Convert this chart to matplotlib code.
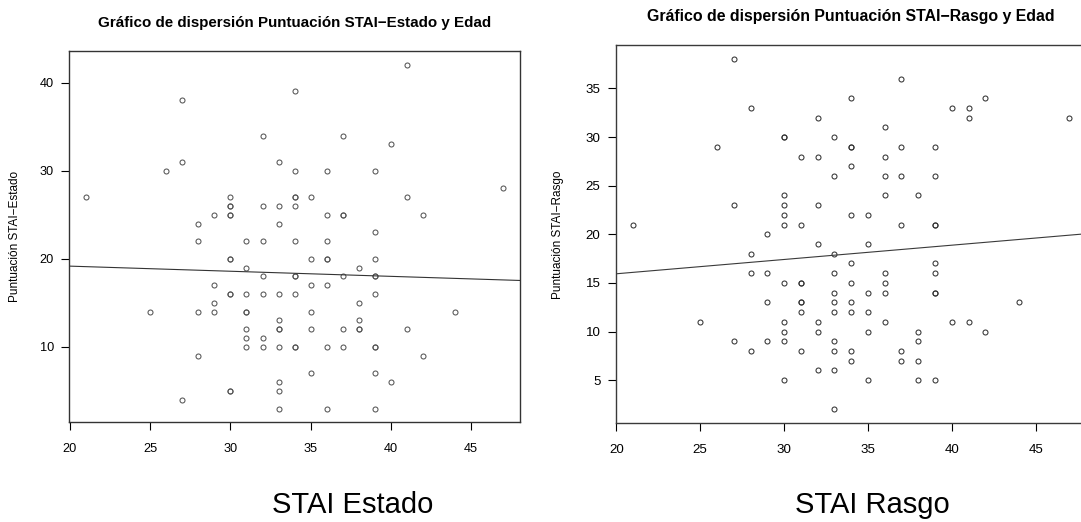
import matplotlib
matplotlib.use("Agg")
import matplotlib.pyplot as plt

plt.rcParams['font.family'] = ['Liberation Sans', 'DejaVu Sans']

# STAI-Estado vs edad
estado_edad = [41, 27, 34, 32, 37, 40, 27, 33, 26, 34, 36, 39, 47, 21, 30, 34, 34, 35, 41,
               30, 30, 32, 33, 34, 29, 30, 30, 36, 37, 37, 42, 28, 33, 39, 28, 31, 32, 34, 36,
               30, 30, 35, 36, 36, 39, 31, 38, 32, 34, 34, 37, 39, 39, 29, 35, 36,
               30, 30, 31, 32, 33, 34, 39, 29, 38, 25, 28, 29, 31, 31, 35, 44, 33, 38,
               31, 33, 33, 35, 37, 38, 38, 41, 31, 32, 31, 32, 33, 34, 34, 36, 37, 39, 39,
               28, 42, 35, 39, 33, 40, 30, 30, 33, 27, 33, 36, 39]
estado_punt = [42, 38, 39, 34, 34, 33, 31, 31, 30, 30, 30, 30, 28, 27, 27, 27, 27, 27, 27,
               26, 26, 26, 26, 26, 25, 25, 25, 25, 25, 25, 25, 24, 24, 23, 22, 22, 22, 22, 22,
               20, 20, 20, 20, 20, 20, 19, 19, 18, 18, 18, 18, 18, 18, 17, 17, 17,
               16, 16, 16, 16, 16, 16, 16, 15, 15, 14, 14, 14, 14, 14, 14, 14, 13, 13,
               12, 12, 12, 12, 12, 12, 12, 12, 11, 11, 10, 10, 10, 10, 10, 10, 10, 10, 10,
               9, 9, 7, 7, 6, 6, 5, 5, 5, 4, 3, 3, 3]

# STAI-Rasgo vs edad
rasgo_edad = [27, 37, 28, 34, 42, 40, 41, 41, 47, 32, 36, 30, 30, 33, 26, 34, 34, 37, 39,
              31, 32, 36, 34, 33, 36, 37, 39, 30, 36, 38, 27, 30, 32, 30, 34, 35,
              21, 30, 31, 37, 39, 39, 29, 32, 35, 28, 33, 34, 39, 28, 29, 33, 36, 39,
              30, 31, 31, 34, 36, 33, 35, 36, 39, 39, 29, 31, 31, 33, 34, 44,
              31, 33, 34, 35, 25, 30, 32, 36, 40, 41, 30, 32, 35, 38, 42,
              27, 29, 30, 33, 38, 28, 31, 33, 34, 37, 34, 37, 38, 32, 33, 30, 35, 38, 39, 33]
rasgo_punt = [38, 36, 33, 34, 34, 33, 33, 32, 32, 32, 31, 30, 30, 30, 29, 29, 29, 29, 29,
              28, 28, 28, 27, 26, 26, 26, 26, 24, 24, 24, 23, 23, 23, 22, 22, 22,
              21, 21, 21, 21, 21, 21, 20, 19, 19, 18, 18, 17, 17, 16, 16, 16, 16, 16,
              15, 15, 15, 15, 15, 14, 14, 14, 14, 14, 13, 13, 13, 13, 13, 13,
              12, 12, 12, 12, 11, 11, 11, 11, 11, 11, 10, 10, 10, 10, 10,
              9, 9, 9, 9, 9, 8, 8, 8, 8, 8, 7, 7, 7, 6, 6, 5, 5, 5, 5, 2]

# regression lines (intercept, slope)
estado_recta = (20.33, -0.058)
rasgo_recta = (13.00, 0.147)

x_ticks = [20, 25, 30, 35, 40, 45]
estado_yticks = [10, 20, 30, 40]
rasgo_yticks = [5, 10, 15, 20, 25, 30, 35]


def r_lim(vals):
    # R style axis range: data range plus 4% each side
    lo, hi = min(vals), max(vals)
    d = (hi - lo) * 0.04
    return lo - d, hi + d


def scatter_panel(ax, x, y, recta, yticks, ylabel, col, mcol, lsize):
    ax.plot(x, y, linestyle='none', marker='o', markersize=3.6, markerfacecolor='none',
            markeredgecolor=mcol, markeredgewidth=0.75)
    ax.axline((0, recta[0]), slope=recta[1], color=col, linewidth=0.8)
    ax.set_xlim(r_lim(x))
    ax.set_ylim(r_lim(y))
    ax.set_xticks(x_ticks)
    ax.set_yticks(yticks)
    ax.tick_params(axis='both', direction='out', length=5.5, width=0.8, labelsize=lsize)
    ax.tick_params(axis='x', pad=9.5)
    ax.tick_params(axis='y', pad=5.5)
    for s in ax.spines.values():
        s.set_linewidth(1.0)
        s.set_color(col)
    ax.set_ylabel(ylabel, fontsize=8.5)


fig = plt.figure(figsize=(10.81, 5.22), dpi=100)
W, H = 1081.0, 522.0

ax1 = fig.add_axes([0.0641, 0.1910, 0.4169, 0.7107])
scatter_panel(ax1, estado_edad, estado_punt, estado_recta, estado_yticks,
              'Puntuación STAI\u2212Estado', '#333333', '#555555', 9.2)
ax1.yaxis.set_label_coords(-0.107, 0.5)

ax2 = fig.add_axes([0.5696, 0.1891, 0.4356, 0.7241])
scatter_panel(ax2, rasgo_edad, rasgo_punt, rasgo_recta, rasgo_yticks,
              'Puntuación STAI\u2212Rasgo', '#3a3a3a', '#333333', 9.6)
ax2.yaxis.set_label_coords(-0.109, 0.5)

fig.text(294.7 / W, 1 - 23.4 / H, 'Gráfico de dispersión Puntuación STAI\u2212Estado y Edad',
         fontsize=10.9, fontweight='bold', ha='center', va='center')
fig.text(851 / W, 1 - 16.6 / H, 'Gráfico de dispersión Puntuación STAI\u2212Rasgo y Edad',
         fontsize=11.4, fontweight='bold', ha='center', va='center')

fig.text(352.6 / W, 1 - 513 / H, 'STAI Estado', fontsize=21, ha='center', va='baseline')
fig.text(872.6 / W, 1 - 513 / H, 'STAI Rasgo', fontsize=21, ha='center', va='baseline')

fig.savefig('out.png', dpi=100)
